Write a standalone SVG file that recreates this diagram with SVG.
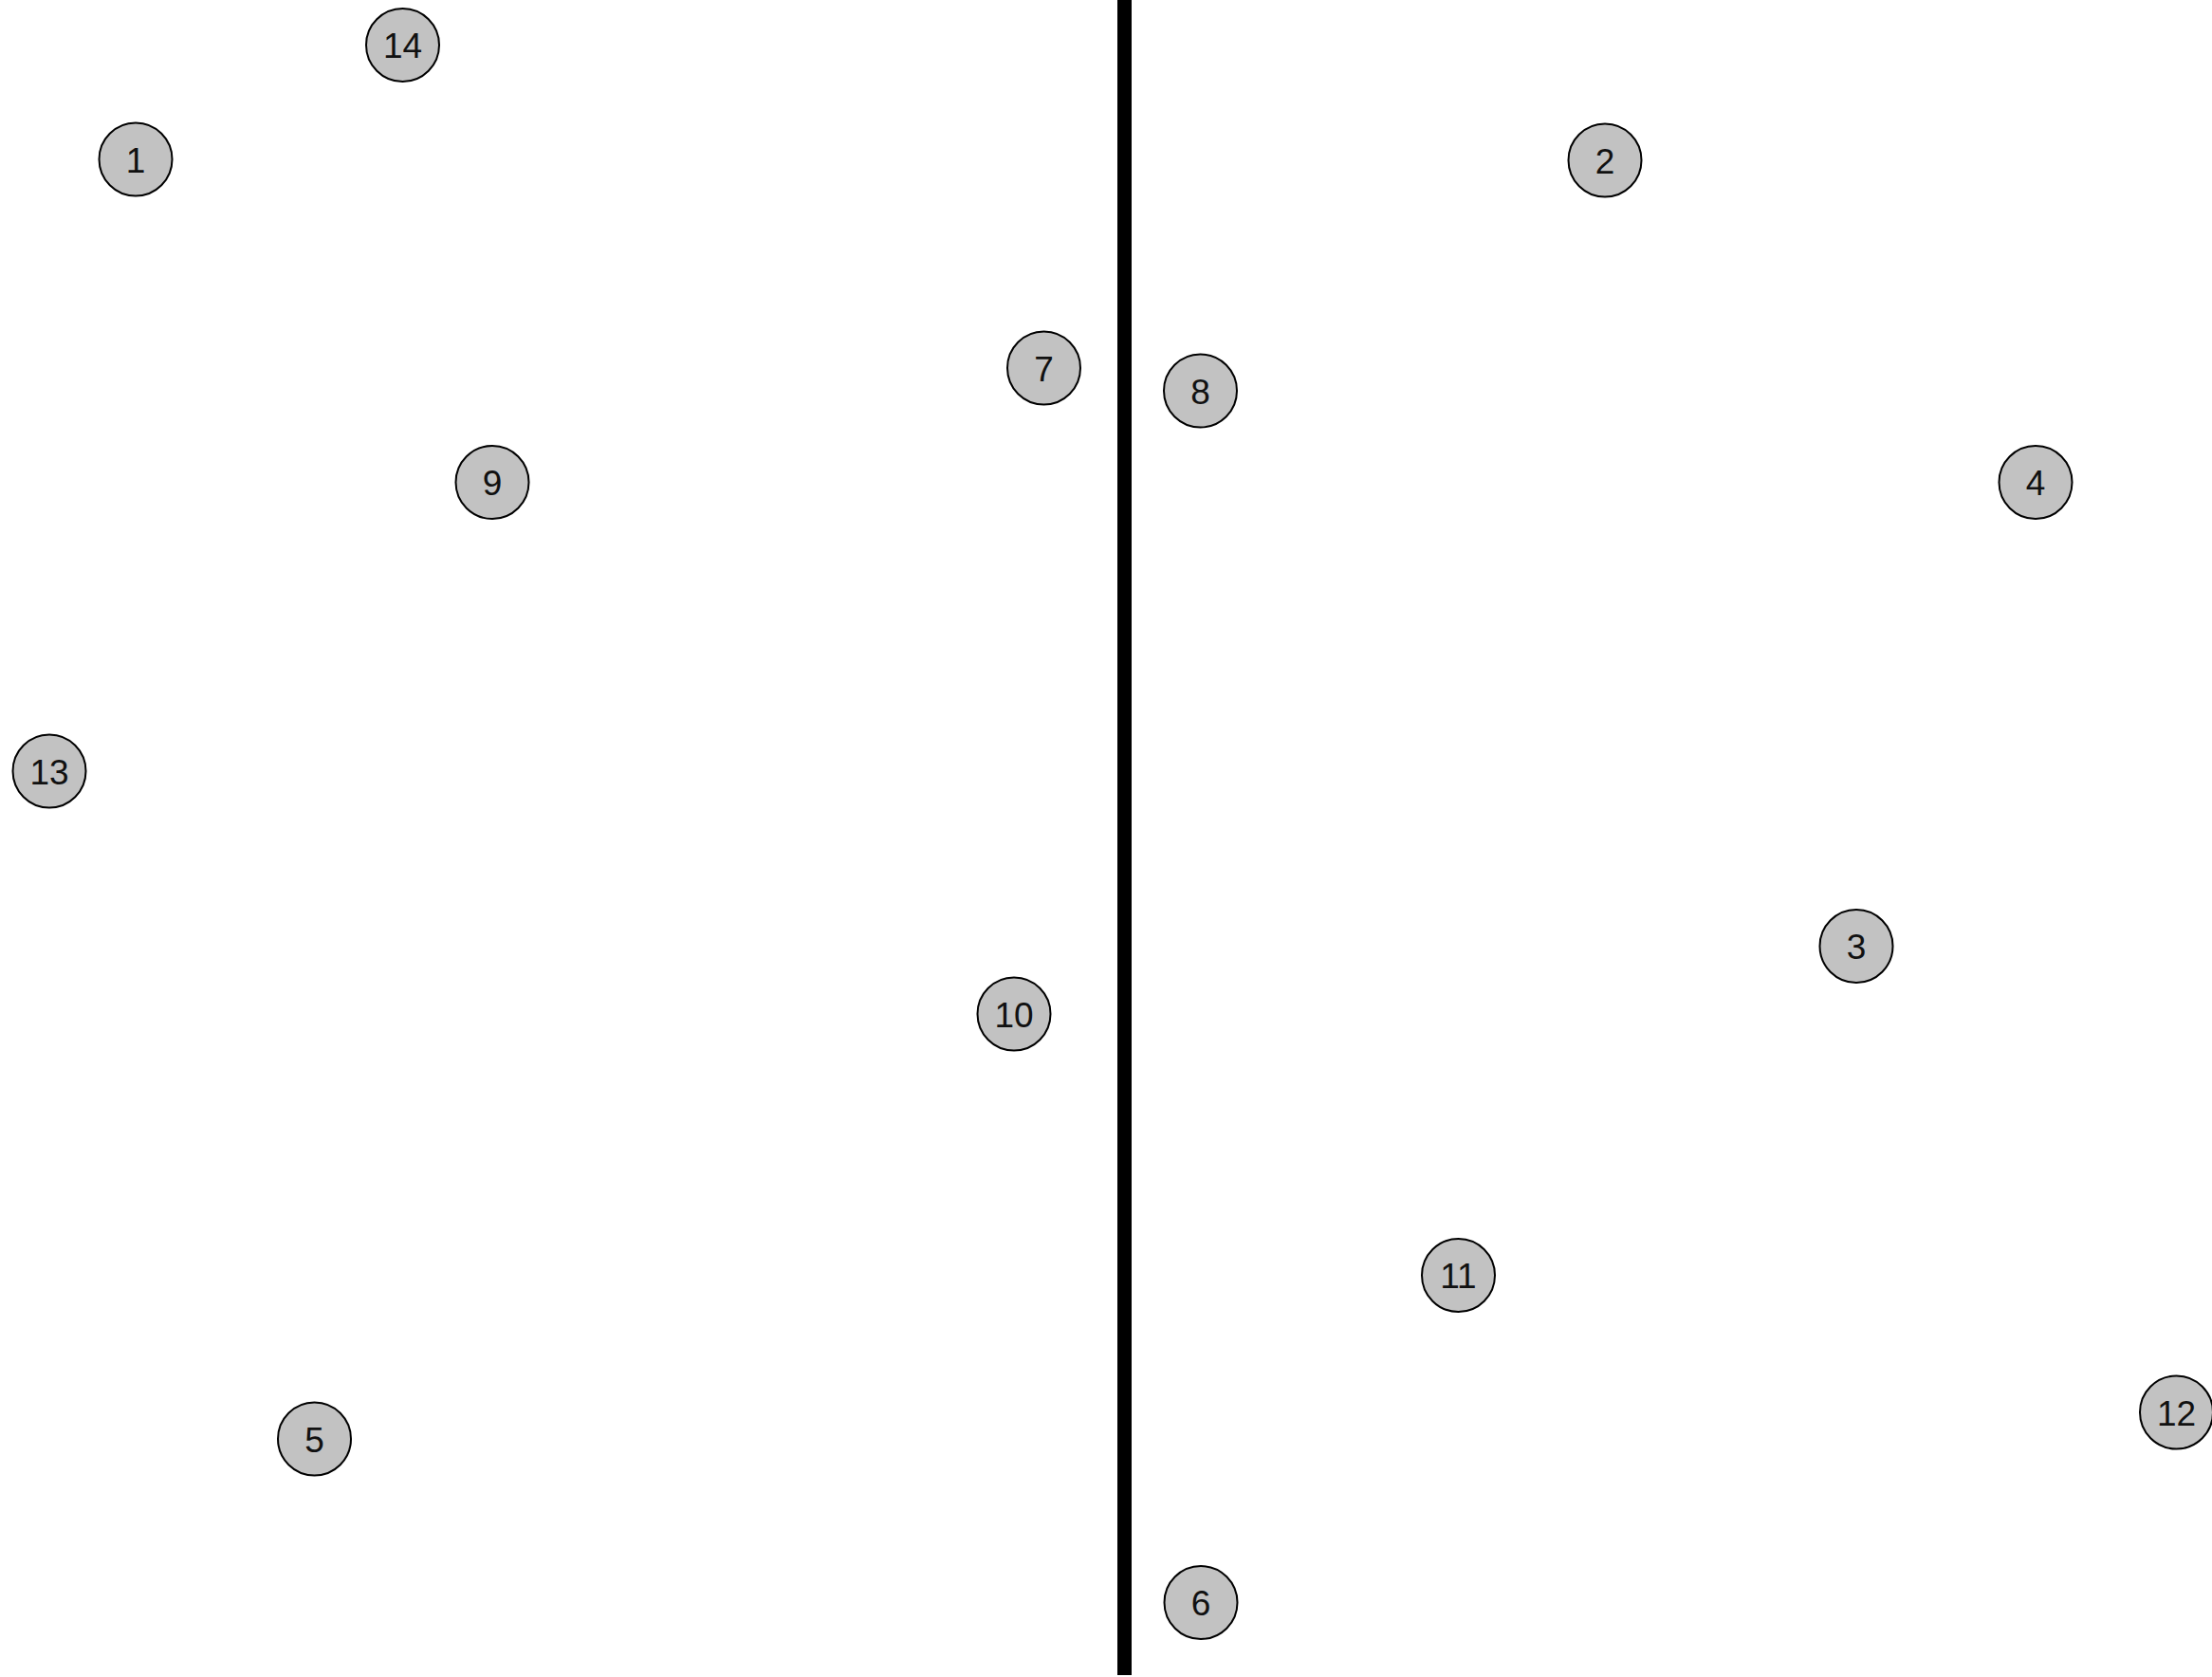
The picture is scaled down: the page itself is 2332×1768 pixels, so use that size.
<svg xmlns="http://www.w3.org/2000/svg" width="2332" height="1768" viewBox="0 0 2332 1768">
<style>
.n circle{fill:#c2c2c2;stroke:#000;stroke-width:2}
.n text{font-family:"Liberation Sans",Arial,sans-serif;font-size:37px;fill:#111;text-anchor:middle;dominant-baseline:central}
</style>
<rect width="2332" height="1768" fill="#fff"/>
<g id="connectors">
<line x1="1185.5" y1="0" x2="1185.5" y2="1766" stroke="#000" stroke-width="15"/>
</g>
<g id="n14" class="n"><circle cx="424.5" cy="47.5" r="38.5"/><text x="424.5" y="48.5">14</text></g>
<g id="n1" class="n"><circle cx="143" cy="168" r="38.5"/><text x="143" y="169">1</text></g>
<g id="n2" class="n"><circle cx="1692" cy="169" r="38.5"/><text x="1692" y="170">2</text></g>
<g id="n7" class="n"><circle cx="1100.5" cy="388" r="38.5"/><text x="1100.5" y="389">7</text></g>
<g id="n8" class="n"><circle cx="1265.5" cy="412" r="38.5"/><text x="1265.5" y="413">8</text></g>
<g id="n9" class="n"><circle cx="519" cy="508.5" r="38.5"/><text x="519" y="509.5">9</text></g>
<g id="n4" class="n"><circle cx="2146" cy="508.5" r="38.5"/><text x="2146" y="509.5">4</text></g>
<g id="n13" class="n"><circle cx="52" cy="813" r="38.5"/><text x="52" y="814">13</text></g>
<g id="n3" class="n"><circle cx="1957" cy="997.5" r="38.5"/><text x="1957" y="998.5">3</text></g>
<g id="n10" class="n"><circle cx="1069" cy="1069" r="38.5"/><text x="1069" y="1070">10</text></g>
<g id="n11" class="n"><circle cx="1537.5" cy="1344.5" r="38.5"/><text x="1537.5" y="1345.5">11</text></g>
<g id="n12" class="n"><circle cx="2294.5" cy="1489" r="38.5"/><text x="2294.5" y="1490">12</text></g>
<g id="n5" class="n"><circle cx="331.5" cy="1517" r="38.5"/><text x="331.5" y="1518">5</text></g>
<g id="n6" class="n"><circle cx="1266" cy="1689.5" r="38.5"/><text x="1266" y="1690.5">6</text></g>
</svg>
